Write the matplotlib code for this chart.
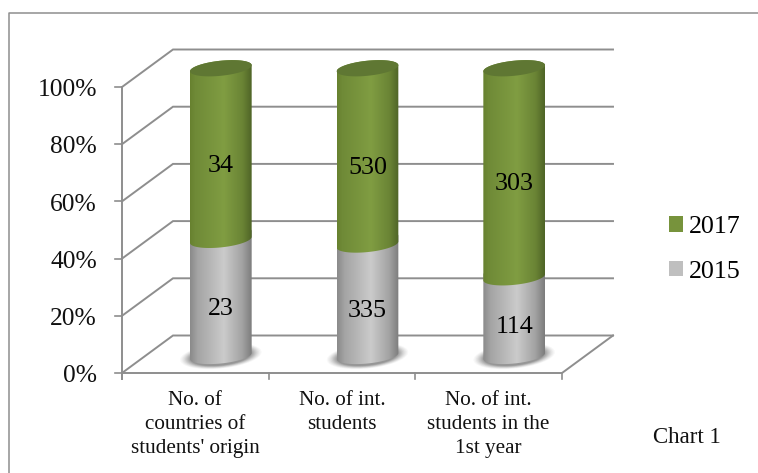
import matplotlib as mpl

mpl.use("Agg")

import matplotlib.pyplot as plt
import numpy as np
from matplotlib.colors import LinearSegmentedColormap
from matplotlib.patches import Patch, PathPatch, Polygon
from matplotlib.path import Path

plt.rcParams["font.family"] = ["Liberation Serif", "DejaVu Serif"]

categories = ["No. of\ncountries of\nstudents' origin", "No. of int.\nstudents", "No. of int.\nstudents in the\n1st year"]
values_2015 = [23, 335, 114]
values_2017 = [34, 530, 303]
y_ticks = [0, 20, 40, 60, 80, 100]

GRID = "#8e8e8e"
PX_X = 440.0 / 3.0  # pixels per category
PX_Y = 286.0 / 100.0  # pixels per percent
LEFT, BASE = 122.0, 373.0  # where the front plane starts in the picture
WIDTH, HEIGHT = 758, 473
DEPTH_X, DEPTH_Y = 51.0 / PX_X, 37.5 / PX_Y
BAR_A, BAR_B, TILT = 31.0, 7.5, np.deg2rad(6.0)

green_map = LinearSegmentedColormap.from_list("green", [(0, "#67812f"), (0.08, "#6f8a37"), (0.55, "#809d42"), (0.85, "#6a8435"), (1, "#4f6427")])
gray_map = LinearSegmentedColormap.from_list("gray", [(0, "#8a8a8a"), (0.12, "#a4a4a4"), (0.55, "#cbcbcb"), (0.85, "#a2a2a2"), (1, "#7c7c7c")])


def arc(center_x, level, start, stop):
    # tilted ellipse seen at the middle of the depth, returned in data units
    theta = np.deg2rad(np.linspace(start, stop, 60))
    px = BAR_A * np.cos(theta)
    py = BAR_B * np.sin(theta)
    x = px * np.cos(TILT) - py * np.sin(TILT)
    y = px * np.sin(TILT) + py * np.cos(TILT)
    return np.column_stack([center_x + x / PX_X, level + y / PX_Y])


def draw_segment(ax, center_x, low, high, cmap, zorder):
    outline = np.vstack([arc(center_x, low, 180, 360), arc(center_x, high, 0, 180)])
    patch = PathPatch(Path(np.vstack([outline, outline[0]])), transform=ax.transData, facecolor="none", edgecolor="none")
    ax.add_patch(patch)
    half = BAR_A / PX_X
    image = ax.imshow(
        np.linspace(0, 1, 128).reshape(1, -1),
        cmap=cmap,
        extent=(center_x - half, center_x + half, low - 5, high + 5),
        aspect="auto",
        zorder=zorder,
        interpolation="bilinear",
    )
    image.set_clip_path(patch)


fig = plt.figure(figsize=(WIDTH / 100, HEIGHT / 100), dpi=100)
ax = fig.add_axes([0, 0, 1, 1])
ax.axis("off")
xlim = (-LEFT / PX_X, (WIDTH - LEFT) / PX_X)
ylim = ((BASE - HEIGHT) / PX_Y, BASE / PX_Y)

# outer chart border, open on the right and at the bottom
fig.add_artist(plt.Line2D([8.5 / WIDTH, 8.5 / WIDTH, 1], [0, 1 - 13.5 / HEIGHT, 1 - 13.5 / HEIGHT], color=GRID, linewidth=1.1))

# walls and floor
for tick in y_ticks:
    ax.plot([0, DEPTH_X, 3 + DEPTH_X], [tick, tick + DEPTH_Y, tick + DEPTH_Y], color=GRID, linewidth=1.4, zorder=1, solid_joinstyle="miter")
    ax.plot([-7 / PX_X, 0], [tick, tick], color=GRID, linewidth=1.2, zorder=1)
    ax.text(-25 / PX_X, tick - 3.2 / PX_Y, f"{tick}%", ha="right", va="center", fontsize=18.4, color="#111111")
ax.plot([0, 0], [-6 / PX_Y, 100], color=GRID, linewidth=1.4, zorder=1)
ax.plot([0, 3, 3 + DEPTH_X], [0, 0, DEPTH_Y], color=GRID, linewidth=1.4, zorder=1)
for pos in range(4):
    ax.plot([pos, pos], [-6 / PX_Y, 0], color=GRID, linewidth=1.2, zorder=1)

# cylinders sit in the middle of the floor depth
for index, category in enumerate(categories):
    total = values_2015[index] + values_2017[index]
    share = 100.0 * values_2015[index] / total
    center_x = index + 0.5 + DEPTH_X / 2
    bottom = DEPTH_Y / 2 - 0.6
    top = 100 + DEPTH_Y / 2
    level = bottom + (top - bottom) * share / 100.0

    for scale, alpha in zip(np.linspace(1.32, 1.0, 9), [0.03, 0.04, 0.05, 0.06, 0.07, 0.08, 0.09, 0.1, 0.12]):
        theta = np.deg2rad(np.linspace(0, 360, 80))
        px, py = BAR_A * scale * np.cos(theta), (BAR_B + 2.0) * scale * np.sin(theta)
        rx = px * np.cos(TILT) - py * np.sin(TILT)
        ry = px * np.sin(TILT) + py * np.cos(TILT)
        ax.add_patch(Polygon(np.column_stack([center_x + rx / PX_X, bottom + ry / PX_Y]), facecolor="#303030", edgecolor="none", alpha=alpha, zorder=2))

    draw_segment(ax, center_x, bottom, level + 2, gray_map, 3)
    draw_segment(ax, center_x, level, top, green_map, 4)
    ax.fill(*arc(center_x, top, 0, 360).T, color="#5f7733", linewidth=0, zorder=5)

    # labels stay a little above the middle of the front plane segment
    lift = 6.5 / PX_Y
    ax.text(center_x, share / 2 + lift, str(values_2015[index]), ha="center", va="center", fontsize=18.7, color="black", zorder=6)
    ax.text(center_x, (share + 100) / 2 + lift, str(values_2017[index]), ha="center", va="center", fontsize=18.7, color="black", zorder=6)

    ax.text(index + 0.5, -17.5 / PX_Y, category, ha="center", va="top", fontsize=15.2, linespacing=1.38, color="#111111")

ax.set_xlim(xlim)
ax.set_ylim(ylim)

ax.legend(
    handles=[Patch(facecolor="#77933c", label="2017"), Patch(facecolor="#bfbfbf", label="2015")],
    loc="center left",
    bbox_to_anchor=(669 / WIDTH, 1 - 249.5 / HEIGHT),
    frameon=False,
    fontsize=18.7,
    handlelength=0.55,
    handleheight=0.55,
    handletextpad=0.2,
    labelspacing=0.85,
    borderpad=0,
    borderaxespad=0,
)
ax.text((653 - LEFT) / PX_X, (BASE - 437) / PX_Y, "Chart 1", ha="left", va="center", fontsize=16.5, color="#111111")

fig.savefig("out.png", dpi=100)
